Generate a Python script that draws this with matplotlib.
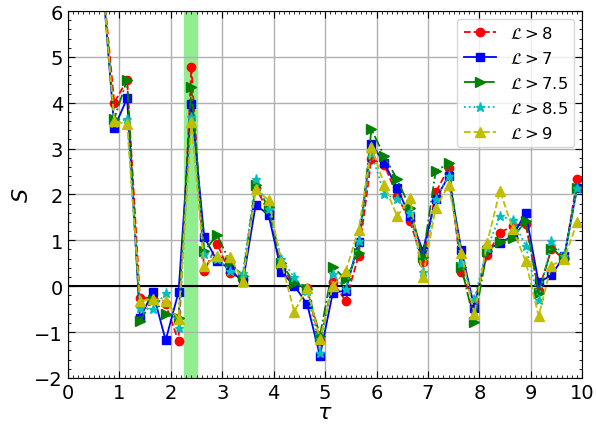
import matplotlib
matplotlib.use("Agg")
import matplotlib.pyplot as plt
from matplotlib.ticker import MultipleLocator

tau = [0.65, 0.9, 1.15, 1.4, 1.65, 1.9, 2.15, 2.4, 2.65, 2.9, 3.15, 3.4, 3.65, 3.9,
       4.15, 4.4, 4.65, 4.9, 5.15, 5.4, 5.65, 5.9, 6.15, 6.4, 6.65, 6.9, 7.15, 7.4,
       7.65, 7.9, 8.15, 8.4, 8.65, 8.9, 9.15, 9.4, 9.65, 9.9]

s_L8 = [7.0, 4.0, 4.5, -0.26, -0.25, -0.4, -1.2, 4.77, 0.32, 0.93, 0.28, 0.15, 2.15, 1.62,
        0.4, 0.05, -0.05, -1.2, 0.08, -0.32, 0.66, 2.77, 2.65, 1.97, 1.42, 0.52, 2.05, 2.57,
        0.3, -0.35, 0.68, 1.17, 1.31, 1.35, -0.1, 0.8, 0.6, 2.33]
s_L7 = [7.0, 3.45, 4.1, -0.7, -0.13, -1.18, -0.13, 3.97, 1.07, 0.55, 0.38, 0.08, 1.77, 1.56,
        0.31, 0.01, -0.39, -1.52, -0.14, -0.1, 0.96, 3.1, 2.69, 2.13, 1.53, 0.77, 1.9, 2.4,
        0.78, -0.47, 0.8, 0.94, 1.1, 1.6, 0.08, 0.24, 0.66, 2.15]
s_L75 = [7.0, 3.65, 4.5, -0.76, -0.3, -0.6, -0.7, 4.34, 0.76, 1.12, 0.52, 0.22, 2.2, 1.72,
         0.5, 0.07, -0.07, -1.08, 0.42, 0.15, 0.72, 3.42, 2.84, 2.33, 1.71, 0.63, 2.51, 2.68,
         0.41, -0.78, 0.77, 0.96, 1.06, 1.42, -0.14, 0.82, 0.62, 2.15]
s_L85 = [7.0, 3.55, 3.65, -0.48, -0.5, -0.15, -0.92, 3.7, 0.7, 0.6, 0.33, 0.28, 2.33, 1.68,
         0.59, 0.19, -0.1, -1.45, 0.26, -0.07, 0.99, 2.9, 2.01, 1.9, 1.6, 0.3, 1.9, 2.4,
         0.5, -0.28, 0.83, 1.52, 1.45, 0.88, -0.3, 0.98, 0.65, 2.13]
s_L9 = [7.0, 3.6, 3.53, -0.32, -0.28, -0.32, -0.72, 3.58, 0.44, 0.66, 0.64, 0.12, 2.12, 1.88,
        0.52, -0.56, -0.03, -1.16, 0.0, 0.33, 1.22, 3.03, 2.21, 1.52, 1.93, 0.19, 1.71, 2.2,
        0.72, -0.61, 0.95, 2.08, 1.24, 0.54, -0.65, 0.45, 0.59, 1.4]

labels = [r'$\mathcal{L}>8$', r'$\mathcal{L}>7$', r'$\mathcal{L}>7.5$',
          r'$\mathcal{L}>8.5$', r'$\mathcal{L}>9$']

fig = plt.figure(figsize=(5.96, 4.31), dpi=100)
ax = fig.add_axes([0.114, 0.121, 0.863, 0.851])

ax.axvspan(2.25, 2.5, color='lightgreen', zorder=0)
ax.axhline(0, color='k', lw=1.5, zorder=1)

ax.plot(tau, s_L8, 'o--', color='r', ms=6, lw=1.3, label=labels[0])
ax.plot(tau, s_L7, 's-', color='b', ms=6, lw=1.3, label=labels[1])
ax.plot(tau, s_L75, '>-.', color='g', ms=6.5, lw=1.3, label=labels[2])
ax.plot(tau, s_L85, '*:', color='c', ms=6.5, lw=1.3, label=labels[3])
ax.plot(tau, s_L9, '^--', color='y', ms=6.5, lw=1.3, label=labels[4])

ax.set_xlim(0, 10)
ax.set_ylim(-2, 6)
ax.xaxis.set_major_locator(MultipleLocator(1))
ax.xaxis.set_minor_locator(MultipleLocator(0.1))
ax.yaxis.set_major_locator(MultipleLocator(1))
ax.yaxis.set_minor_locator(MultipleLocator(0.2))
ax.tick_params(which='both', direction='in', top=True, right=True, labelsize=14)
ax.tick_params(which='major', length=5)
ax.tick_params(which='minor', length=2.5)
ax.grid(True, which='major', color='#b0b0b0', lw=1.0)
ax.set_axisbelow(True)

ax.set_xlabel(r'$\tau$', fontsize=16, labelpad=0)
ax.set_ylabel(r'$S$', fontsize=16, labelpad=2)

ax.legend(loc='upper right', fontsize=11.8, handlelength=2.0, borderaxespad=0.5,
          labelspacing=0.6)

fig.savefig('out.png', dpi=100)
